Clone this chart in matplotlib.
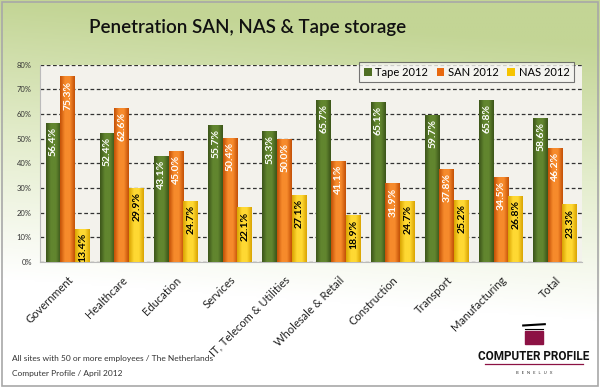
import numpy as np
import matplotlib
matplotlib.use("Agg")
import matplotlib.pyplot as plt
from matplotlib.colors import LinearSegmentedColormap
from matplotlib.patches import Rectangle

plt.rcParams["font.family"] = ["Lato", "DejaVu Sans"]

categories = ["Government", "Healthcare", "Education", "Services",
              "IT, Telecom & Utilities", "Wholesale & Retail", "Construction",
              "Transport", "Manufacturing", "Total"]
tape = [56.4, 52.4, 43.1, 55.7, 53.3, 65.7, 65.1, 59.7, 65.8, 58.6]
san = [75.3, 62.6, 45.0, 50.4, 50.0, 41.1, 31.9, 37.8, 34.5, 46.2]
nas = [13.4, 29.9, 24.7, 22.1, 27.1, 18.9, 24.7, 25.2, 26.8, 23.3]
series = ["Tape 2012", "SAN 2012", "NAS 2012"]
yticks = [0, 10, 20, 30, 40, 50, 60, 70, 80]

# kleur: (rand, midden, vlak, labelkleur)
styles = [
    ("#3b5419", "#62862f", "#4f6f24", "white"),
    ("#c24f06", "#f78b2c", "#e8690f", "white"),
    ("#d9a300", "#ffd933", "#f6c400", "black"),
]

fig = plt.figure(figsize=(6.0, 3.88), dpi=100)

# achtergrond met groen verloop
bg = fig.add_axes([0, 0, 1, 1], zorder=-10)
yy, xx = np.mgrid[0:1:200j, 0:1:200j]
t = np.clip((yy - 0.28) / 0.72 + 0.15 * xx, 0, 1)
bg_cmap = LinearSegmentedColormap.from_list("bg", ["#ffffff", "#e4edcd", "#c3d595"])
bg.imshow(t, cmap=bg_cmap, origin="lower", extent=[0, 1, 0, 1], aspect="auto")
bg.set_xlim(0, 1)
bg.set_ylim(0, 1)
bg.axis("off")
bg.add_patch(Rectangle((0.004, 0.006), 0.992, 0.988, fill=False,
                       edgecolor="#a8a8a8", linewidth=1.2))

ax = fig.add_axes([0.067, 0.325, 0.903, 0.508])
ax.set_facecolor("#f3f2ec")

x = np.arange(len(categories))
width = 0.27
offsets = [-width, 0, width]

for vals, off, (edge, mid, flat, tcol), name in zip([tape, san, nas], offsets, styles, series):
    bars = ax.bar(x + off, vals, width=width * 0.97, color=flat, label=name,
                  zorder=3, linewidth=0)
    cmap = LinearSegmentedColormap.from_list(name, [edge, mid, mid, edge])
    grad = np.linspace(0, 1, 64).reshape(1, -1)
    for b, v in zip(bars, vals):
        bx, bw = b.get_x(), b.get_width()
        im = ax.imshow(grad, cmap=cmap, extent=[bx, bx + bw, 0, v],
                       aspect="auto", zorder=3.5, interpolation="bicubic")
        im.set_clip_path(b)
        ax.annotate(f"{v:.1f}%", (b.get_x() + bw / 2, v), xytext=(0.5, -3),
                    textcoords="offset points", rotation=90, ha="center",
                    va="top", fontsize=7.5, fontweight="bold", color=tcol, zorder=5)

ax.set_xlim(-0.5, len(categories) - 0.5)
ax.set_ylim(0, 80)
ax.set_yticks(yticks)
ax.set_yticklabels([f"{v}%" for v in yticks], fontsize=5.5, color="#333333")
ax.set_xticks(x)
ax.set_xticklabels(categories, rotation=45, ha="right", rotation_mode="anchor",
                   fontsize=8, color="#222222")
ax.tick_params(axis="x", length=0, pad=9)
ax.tick_params(axis="y", length=0, pad=6)
ax.yaxis.grid(True, linestyle=(0, (3, 2)), color="#333333", linewidth=0.9, zorder=1)
ax.set_axisbelow(True)
for s in ["top", "right"]:
    ax.spines[s].set_visible(False)
ax.spines["left"].set_color("#bbbbbb")
ax.spines["bottom"].set_color("#bbbbbb")

leg = ax.legend(loc="upper right", bbox_to_anchor=(0.995, 1.04), ncol=3,
                fontsize=8, frameon=True, fancybox=False, handlelength=0.7,
                handleheight=0.7, handletextpad=0.3, columnspacing=0.8,
                borderpad=0.4)
leg.get_frame().set_edgecolor("#555555")
leg.get_frame().set_facecolor("#f5f5f0")
leg.get_frame().set_linewidth(0.8)
leg.set_zorder(10)

fig.text(0.413, 0.93, "Penetration SAN, NAS & Tape storage", ha="center",
         va="center", fontsize=13.5, fontweight="semibold", color="#111111")

fig.text(0.02, 0.076, "All sites with 50 or more employees / The Netherlands",
         fontsize=6, color="#333333", va="center")
fig.text(0.02, 0.037, "Computer Profile / April 2012",
         fontsize=6, color="#333333", va="center")

# logo
logo = fig.add_axes([0.80, 0.02, 0.18, 0.17])
logo.set_xlim(0, 1)
logo.set_ylim(0, 1)
logo.axis("off")
logo.add_patch(Rectangle((0.42, 0.55), 0.16, 0.2, color="#8c1244"))
logo.plot([0.40, 0.60], [0.83, 0.85], color="black", linewidth=1.5)
logo.plot([0.42, 0.58], [0.77, 0.77], color="black", linewidth=0.8)
logo.text(0.5, 0.36, "COMPUTER PROFILE", ha="center", va="center",
          fontsize=8.5, fontweight="semibold", color="#111111",
          family=["Roboto", "DejaVu Sans"], stretch="condensed")
logo.plot([0.05, 0.95], [0.24, 0.24], color="#8c1244", linewidth=0.9)
logo.text(0.5, 0.11, "B   E   N   E   L   U   X", ha="center", va="center",
          fontsize=3, color="#333333")

fig.savefig("out.png", dpi=100)
